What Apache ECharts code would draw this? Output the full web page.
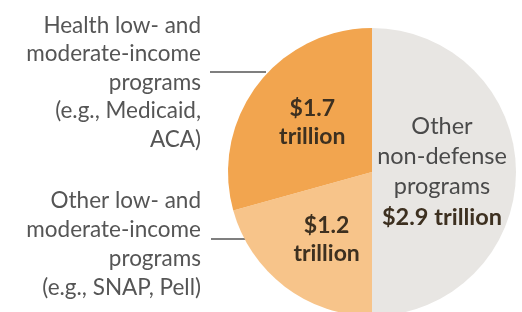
<!DOCTYPE html>
<html><head><meta charset="utf-8">
<script src="https://cdn.jsdelivr.net/npm/echarts@6/dist/echarts.min.js"></script>
<style>html,body{margin:0;padding:0;background:#fff}#c{width:522px;height:312px}</style>
</head><body><div id="c"></div>
<script>
const categories = ['Other non-defense programs', 'Other low- and moderate-income programs', 'Health low- and moderate-income programs'];
const values = [2.9, 1.2, 1.7];
const colors = ['#E8E6E3', '#F7C48A', '#F2A54F'];
const sliceLabels = ['{n|Other}\n{n|non-defense}\n{n|programs}\n{m|$2.9 trillion}', '{b|$1.2}\n{b|trillion}', '{b|$1.7}\n{b|trillion}'];
const sideLabels = [
  'Health low- and\nmoderate-income\nprograms\n(e.g., Medicaid,\nACA)',
  'Other low- and\nmoderate-income\nprograms\n(e.g., SNAP, Pell)'
];
const FONT = 'Lato';
const chart = echarts.init(document.getElementById('c'), null, {renderer: 'canvas'});
const CX = 372, CY = 172, R = 144;
chart.setOption({
  animation: false,
  backgroundColor: '#fff',
  series: [{
    type: 'pie',
    center: [CX, CY],
    radius: [0, R],
    startAngle: 90,
    clockwise: true,
    silent: true,
    label: {
      position: 'inside',
      formatter: p => sliceLabels[p.dataIndex],
      rich: {
        n: {fontFamily: FONT, fontSize: 23.5, color: '#4a4a4a', lineHeight: 30, align: 'center'},
        m: {fontFamily: FONT, fontSize: 23.5, fontWeight: 'bold', color: '#3d3020', lineHeight: 32, align: 'center'},
        b: {fontFamily: FONT, fontSize: 23, fontWeight: 'bold', color: '#3d3020', lineHeight: 28, align: 'center'}
      }
    },
    labelLine: {show: false},
    itemStyle: {borderWidth: 0},
    data: categories.map((c, i) => ({
      name: c, value: values[i], itemStyle: {color: colors[i]},
      label: i === 1 ? {padding: [16, 0, 0, 0]} : (i === 0 ? {padding: [0, 10, 0, 0]} : {padding: [0, 0, 8, 0]})
    }))
  }],
  graphic: [
    {type: 'text', x: 201, y: 11, style: {text: sideLabels[0], font: '22.5px ' + FONT, fill: '#555', align: 'right', textAlign: 'right', verticalAlign: 'top', lineHeight: 28.5}},
    {type: 'text', x: 201, y: 186, style: {text: sideLabels[1], font: '22.5px ' + FONT, fill: '#555', align: 'right', textAlign: 'right', verticalAlign: 'top', lineHeight: 29}},
    {type: 'line', shape: {x1: 210, y1: 72, x2: 266, y2: 72}, style: {stroke: '#555', lineWidth: 1.5}},
    {type: 'line', shape: {x1: 211, y1: 239, x2: 246, y2: 239}, style: {stroke: '#555', lineWidth: 1.5}}
  ]
});
</script></body></html>
